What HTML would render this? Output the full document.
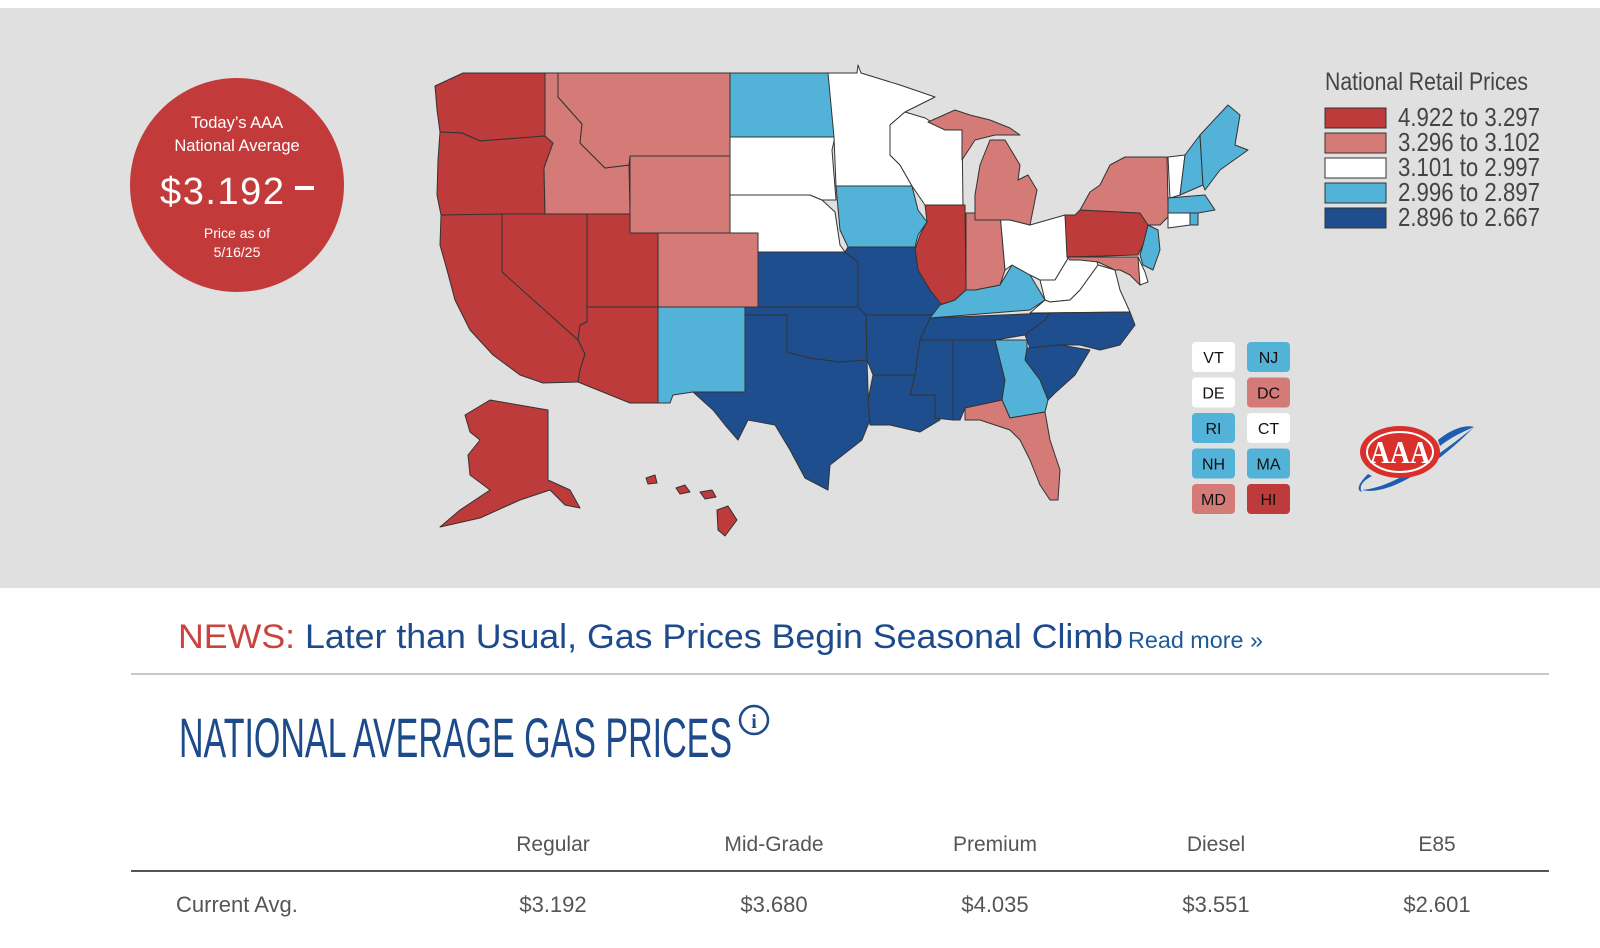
<!DOCTYPE html>
<html><head><meta charset="utf-8"><style>
html,body{margin:0;padding:0;background:#fff;}
svg{display:block;font-family:"Liberation Sans",sans-serif;}
</style></head><body>
<svg id="root" width="1600" height="948" viewBox="0 0 1600 948" xmlns="http://www.w3.org/2000/svg">
<rect x="0" y="8" width="1600" height="580" fill="#e0e0e0"/>
<g id="map"></g>

<g>
<circle cx="237" cy="185" r="107" fill="#c23b3a"/>
<text x="237" y="128" fill="#fff" font-size="16.5" text-anchor="middle">Today’s AAA</text>
<text x="237" y="151" fill="#fff" font-size="16.5" text-anchor="middle">National Average</text>
<text x="222" y="204" fill="#fff" font-size="38" text-anchor="middle" textLength="124">$3.192</text>
<rect x="295" y="186" width="19" height="4" fill="#fff"/>
<text x="237" y="238" fill="#fff" font-size="14" text-anchor="middle">Price as of</text>
<text x="237" y="257" fill="#fff" font-size="14" text-anchor="middle">5/16/25</text>
</g>

<g id="legend">
<text x="1325" y="90" font-family="Liberation Sans Narrow, Liberation Sans, sans-serif" font-size="25" fill="#444" textLength="203" lengthAdjust="spacingAndGlyphs">National Retail Prices</text>
</g>
<g id="boxes"></g>

<g transform="translate(1400,452)">
<path d="M-38,38 C-10,45 40,10 74,-25 C55,-10 0,35 -38,38 Z" fill="#1f5db0"/>
<ellipse cx="0" cy="0" rx="40" ry="26" fill="#d9302c"/>
<ellipse cx="0" cy="0" rx="33" ry="20" fill="none" stroke="#fff" stroke-width="2"/>
<text x="0" y="11" text-anchor="middle" font-family="Liberation Serif,serif" font-weight="bold" font-size="32" fill="#fff" textLength="60" lengthAdjust="spacingAndGlyphs">AAA</text>
<path d="M-32,22 C-40,30 -45,38 -38,40 C-42,34 -36,28 -28,24 Z" fill="#1f5db0"/>
<path d="M38,-12 C50,-22 65,-28 74,-25 C62,-20 50,-14 40,-6 Z" fill="#1f5db0"/>
</g>

<g>
<text x="178" y="648" font-size="34" textLength="945" lengthAdjust="spacingAndGlyphs"><tspan fill="#c9433f">NEWS:</tspan><tspan fill="#1d4a8a"> Later than Usual, Gas Prices Begin Seasonal Climb</tspan></text>
<text x="1128" y="648" font-size="23" fill="#1d5a9a" textLength="135" lengthAdjust="spacingAndGlyphs">Read more »</text>
</g>
<rect x="131" y="673" width="1418" height="2" fill="#c8c8c8"/>

<text x="179" y="757" font-family="Liberation Sans Narrow, Liberation Sans, sans-serif" font-size="56" fill="#1d4a8a" textLength="553" lengthAdjust="spacingAndGlyphs">NATIONAL AVERAGE GAS PRICES</text>
<g>
<circle cx="754" cy="720" r="14" fill="none" stroke="#1d4a8a" stroke-width="2.5"/>
<text x="754" y="728" text-anchor="middle" font-family="Liberation Serif,serif" font-weight="bold" font-size="20" fill="#1d4a8a">i</text>
</g>

<g id="table"></g>
<rect x="131" y="870" width="1418" height="2" fill="#555"/>
</svg>
<script>
const NS = "http://www.w3.org/2000/svg";
const stateCodes = ["WA","OR","ID","MT","WY","NV","CA","UT","AZ","CO","NM","TX","OK","KS","NE","SD","ND","MN","IA","WI","IL","MO","AR","LA","MS","AL","TN","KY","IN","OH","MIL","MIU","WV","VA","NC","SC","GA","FL","PA","NY","NJ","MD","DE","VT","NH","ME","MA","CT","RI","AK","HI1","HI2","HI3","HI4"];
const stateCategory = [0,0,1,1,1,0,0,0,0,1,3,4,4,4,2,2,3,2,3,2,0,4,4,4,4,4,4,3,1,2,1,1,2,2,4,4,3,1,0,1,3,1,2,2,3,3,3,2,3,0,0,0,0,0];
const legendLabels = ["4.922 to 3.297","3.296 to 3.102","3.101 to 2.997","2.996 to 2.897","2.896 to 2.667"];
const boxStates = ["VT","NJ","DE","DC","RI","CT","NH","MA","MD","HI"];
const boxCategory = [2,3,2,1,3,2,3,3,1,0];
const tableHeaders = ["Regular","Mid-Grade","Premium","Diesel","E85"];
const currentAvg = ["$3.192","$3.680","$4.035","$3.551","$2.601"];
const colors = ["#bd3b3a","#d47b78","#ffffff","#52b2d8","#1f4e8f"];

const shapes = {
WA:"435,86 463,73 545,73 545,136 480,141 462,133 440,132 437,110",
OR:"440,132 462,133 480,141 545,136 553,143 544,168 545,215 441,215 437,195 438,160",
ID:"545,73 558,73 558,97 582,124 580,143 605,168 629,165 630,214 545,214 544,168 553,143 545,136",
MT:"558,73 730,73 730,156 630,156 629,165 605,168 580,143 582,124 558,97",
WY:"630,156 730,156 730,233 630,233",
NV:"502,214 587,214 587,322 580,325 578,340 502,272",
CA:"441,215 502,214 502,272 578,340 585,354 580,370 578,382 543,383 520,375 493,355 470,330 455,300 447,270 440,245",
UT:"587,214 630,214 630,233 658,233 658,307 587,307",
AZ:"587,307 658,307 658,403 630,403 578,382 580,370 585,354 578,340 580,325 587,322",
CO:"658,233 758,233 758,307 658,307",
NM:"658,307 745,307 745,392 693,392 673,395 670,403 658,403",
TX:"745,315 787,315 787,352 810,358 840,362 867,360 868,390 870,420 862,440 830,465 828,490 805,478 790,450 775,425 748,420 738,440 725,425 713,410 693,392 745,392",
OK:"745,307 866,307 867,360 840,362 810,358 787,352 787,315 745,315",
KS:"758,252 845,252 858,262 858,307 758,307",
NE:"730,195 810,195 822,200 835,212 840,245 845,252 758,252 758,233 730,233",
SD:"730,137 835,137 832,150 836,200 822,200 810,195 730,195",
ND:"730,73 830,73 835,137 730,137",
MN:"828,73 857,73 858,65 861,73 900,85 935,97 905,112 890,125 890,155 900,165 912,186 836,186 834,137",
IA:"836,186 912,186 918,210 927,222 918,235 915,247 848,247 840,230",
WI:"905,112 925,118 945,130 962,130 963,205 925,205 912,186 900,165 890,155 890,125",
IL:"925,205 965,205 966,290 955,300 940,305 930,290 918,270 915,250 920,235 927,222",
MO:"848,247 915,247 918,270 930,290 942,305 940,320 932,325 866,315 858,307 858,262 845,252",
AR:"866,315 935,315 930,335 920,360 915,375 873,375 867,360",
LA:"873,375 915,375 910,395 935,395 940,420 920,432 890,425 870,425 868,400",
MS:"920,340 953,340 953,420 935,418 935,395 910,395 915,375",
AL:"953,340 995,340 1005,380 1002,400 965,408 960,420 953,420",
TN:"930,318 1050,313 1045,320 1025,335 995,340 920,340",
KY:"940,305 955,300 966,290 975,290 1000,285 1012,265 1030,275 1045,300 1030,310 930,318",
IN:"966,213 1000,213 1005,270 1000,285 975,290 966,290",
OH:"1000,213 1010,220 1030,225 1065,215 1070,255 1055,280 1040,280 1030,275 1012,265 1005,270",
MIL:"975,220 1010,220 1030,225 1037,190 1028,175 1018,180 1020,165 1005,140 990,140 980,165 975,195",
MIU:"928,122 955,110 970,115 990,120 1010,128 1020,135 995,135 975,140 962,160 962,130 945,130",
WV:"1040,280 1055,280 1070,255 1080,260 1095,255 1098,265 1080,290 1070,300 1050,302 1045,300",
VA:"1045,300 1050,302 1070,300 1080,290 1098,265 1115,270 1120,290 1130,312 1030,313",
NC:"1050,313 1130,312 1135,325 1120,345 1100,350 1080,345 1060,345 1030,348 1025,335 1045,320",
SC:"1027,348 1060,345 1090,350 1075,375 1055,393 1048,400 1040,380 1025,360",
GA:"995,340 1027,340 1027,348 1025,360 1040,380 1048,400 1045,412 1010,418 1002,400 1005,380",
FL:"965,408 1002,400 1010,418 1045,412 1050,440 1060,470 1058,500 1050,500 1040,485 1030,460 1020,440 1010,430 995,425 980,420 965,420",
PA:"1065,215 1075,215 1080,210 1140,213 1148,225 1143,245 1138,255 1067,257",
NY:"1080,210 1090,192 1100,185 1110,165 1125,157 1167,157 1168,205 1170,215 1160,225 1148,225 1140,213",
NJ:"1148,225 1158,230 1160,250 1153,270 1143,265 1140,255 1143,245",
MD:"1067,257 1138,257 1145,280 1140,285 1130,275 1120,270 1115,270 1098,262 1080,260 1070,260",
DE:"1138,257 1145,272 1148,282 1140,285",
VT:"1168,157 1185,155 1180,195 1170,198",
NH:"1185,155 1200,135 1203,185 1180,195",
ME:"1200,135 1228,105 1240,115 1235,145 1248,150 1220,170 1205,190 1203,185",
MA:"1168,198 1205,195 1215,210 1198,213 1168,213",
CT:"1168,213 1190,213 1190,225 1168,228",
RI:"1190,213 1198,213 1198,225 1190,225",
AK:"465,415 490,400 548,410 548,480 570,490 580,508 565,505 550,490 520,500 480,518 440,527 460,510 490,490 470,475 468,455 480,440 470,432",
HI1:"646,478 655,475 657,483 648,484",
HI2:"676,488 685,485 690,492 680,494",
HI3:"700,492 712,490 716,497 705,499",
HI4:"717,510 728,506 737,520 725,536 718,530"
};

const map = document.getElementById('map');
stateCodes.forEach((code, i) => {
  const p = document.createElementNS(NS, 'polygon');
  p.setAttribute('points', shapes[code]);
  p.setAttribute('fill', colors[stateCategory[i]]);
  p.setAttribute('stroke', '#333');
  p.setAttribute('stroke-width', '1');
  p.setAttribute('stroke-linejoin', 'round');
  
  
  map.appendChild(p);
});

const legend = document.getElementById('legend');
legendLabels.forEach((lab, i) => {
  const y = 108 + i * 25;
  const r = document.createElementNS(NS, 'rect');
  r.setAttribute('x', 1325); r.setAttribute('y', y);
  r.setAttribute('width', 61); r.setAttribute('height', 20);
  r.setAttribute('fill', colors[i]); r.setAttribute('stroke', '#333'); r.setAttribute('stroke-width', '1');
  
  
  legend.appendChild(r);
  const t = document.createElementNS(NS, 'text');
  t.setAttribute('x', 1398); t.setAttribute('y', y + 18);
  t.setAttribute('font-family', 'Liberation Sans Narrow, Liberation Sans, sans-serif');
  t.setAttribute('font-size', '26'); t.setAttribute('fill', '#444');
  t.setAttribute('textLength', '142'); t.setAttribute('lengthAdjust', 'spacingAndGlyphs');
  t.textContent = lab;
  
  
  legend.appendChild(t);
});

const boxes = document.getElementById('boxes');
boxStates.forEach((s, i) => {
  const col = i % 2, row = Math.floor(i / 2);
  const x = 1192 + col * 55, y = 342 + row * 35.5;
  const g = document.createElementNS(NS, 'g');
  
  
  const r = document.createElementNS(NS, 'rect');
  r.setAttribute('x', x); r.setAttribute('y', y); r.setAttribute('width', 43); r.setAttribute('height', 30);
  r.setAttribute('rx', 4); r.setAttribute('fill', colors[boxCategory[i]]);
  g.appendChild(r);
  const t = document.createElementNS(NS, 'text');
  t.setAttribute('x', x + 21.5); t.setAttribute('y', y + 21); t.setAttribute('text-anchor', 'middle');
  t.setAttribute('font-size', '16'); t.setAttribute('fill', '#111');
  t.textContent = s;
  g.appendChild(t);
  boxes.appendChild(g);
});

const table = document.getElementById('table');
const colX = [553, 774, 995, 1216, 1437];
tableHeaders.forEach((h, i) => {
  const t = document.createElementNS(NS, 'text');
  t.setAttribute('x', colX[i]); t.setAttribute('y', 851); t.setAttribute('text-anchor', 'middle');
  t.setAttribute('font-size', '21'); t.setAttribute('fill', '#555');
  t.textContent = h;
  
  
  table.appendChild(t);
  const v = document.createElementNS(NS, 'text');
  v.setAttribute('x', colX[i]); v.setAttribute('y', 912); v.setAttribute('text-anchor', 'middle');
  v.setAttribute('font-size', '22'); v.setAttribute('fill', '#555');
  v.textContent = currentAvg[i];
  
  
  table.appendChild(v);
});
const rl = document.createElementNS(NS, 'text');
rl.setAttribute('x', 176); rl.setAttribute('y', 912); rl.setAttribute('font-size', '22'); rl.setAttribute('fill', '#555');
rl.textContent = 'Current Avg.';


table.appendChild(rl);
</script>
</body></html>
